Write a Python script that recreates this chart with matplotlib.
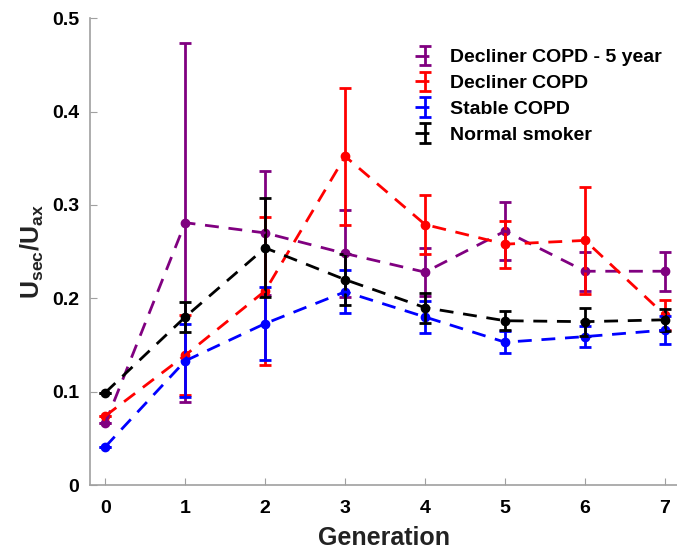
import numpy as np
import matplotlib
matplotlib.use("Agg")
import matplotlib.pyplot as plt

plt.rcParams['font.family'] = ['Liberation Sans', 'DejaVu Sans']
plt.rcParams['font.weight'] = 'bold'
plt.rcParams['mathtext.fontset'] = 'custom'
plt.rcParams['mathtext.bf'] = 'Liberation Sans:bold'
plt.rcParams['mathtext.rm'] = 'Liberation Sans:bold'
plt.rcParams['mathtext.default'] = 'bf'

generation = [0, 1, 2, 3, 4, 5, 6, 7]

# mean values and error (half-length of bars)
decliner5 = [0.066, 0.281, 0.270, 0.248, 0.228, 0.272, 0.229, 0.229]
decliner5_err = [0, 0.192, 0.066, 0.047, 0.026, 0.031, 0.021, 0.021]

decliner = [0.074, 0.139, 0.208, 0.352, 0.279, 0.258, 0.262, 0.182]
decliner_err = [0, 0.043, 0.079, 0.073, 0.032, 0.025, 0.057, 0.016]

stable = [0.041, 0.133, 0.173, 0.207, 0.180, 0.153, 0.159, 0.166]
stable_err = [0, 0.039, 0.039, 0.023, 0.017, 0.012, 0.011, 0.015]

normal = [0.099, 0.180, 0.254, 0.220, 0.190, 0.176, 0.175, 0.177]
normal_err = [0, 0.016, 0.053, 0.027, 0.016, 0.010, 0.015, 0.012]

series = [
    ('Decliner COPD - 5 year', decliner5, decliner5_err, '#800080'),
    ('Decliner COPD', decliner, decliner_err, '#ff0000'),
    ('Stable COPD', stable, stable_err, '#0000ff'),
    ('Normal smoker', normal, normal_err, '#000000'),
]

fig = plt.figure(figsize=(6.77, 5.5), dpi=100)
ax = fig.add_axes([0.133, 0.118, 0.867, 0.849])

for name, vals, err, col in series:
    ax.errorbar(generation, vals, yerr=err, color=col, ls=(0, (5, 3.5)), lw=2,
                elinewidth=2, capsize=4, capthick=2, marker='none', label=name)
    ax.plot(generation, vals, ls='none', marker='o', ms=6, color=col)

ax.set_xlim(-0.19, 7.15)
ax.set_ylim(0, 0.5)
ax.set_xticks(generation)
ax.set_yticks([0, 0.1, 0.2, 0.3, 0.4, 0.5])
ax.set_yticklabels(['0', '0.1', '0.2', '0.3', '0.4', '0.5'])
ax.tick_params(direction='in', length=5, color='#a0a0a0', labelsize=14, pad=8)
ax.tick_params(axis='x', pad=11)
for s in ['top', 'right']:
    ax.spines[s].set_visible(False)
for s in ['left', 'bottom']:
    ax.spines[s].set_color('#a0a0a0')
    ax.spines[s].set_linewidth(1.2)

ax.set_xlabel('Generation', fontsize=18, fontweight='bold', color='#222222', labelpad=6)
ax.set_ylabel(r'U$_{sec}$/U$_{ax}$', fontsize=18, fontweight='bold', color='#222222', labelpad=4)

ax.legend(loc='upper right', bbox_to_anchor=(1.003, 0.972), frameon=False,
          fontsize=14, handlelength=1.1, handletextpad=0.7, labelspacing=0.42)

fig.savefig('out.png', dpi=100)
